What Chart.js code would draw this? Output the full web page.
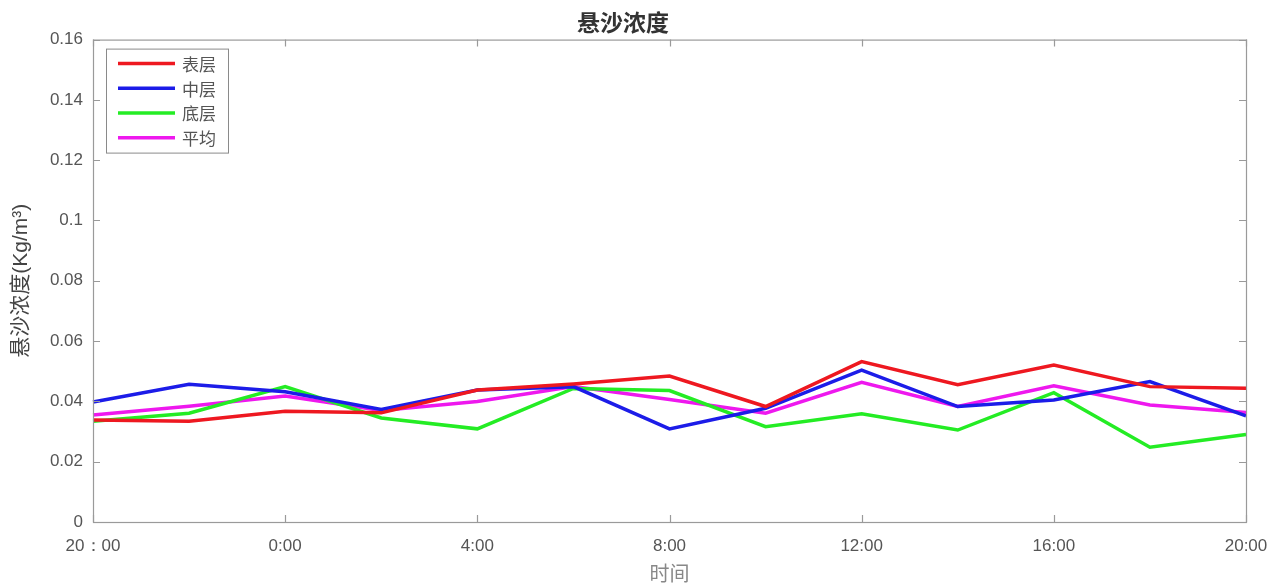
<!DOCTYPE html>
<html><head><meta charset="utf-8">
<script src="https://cdn.jsdelivr.net/npm/chart.js@4.4.0/dist/chart.umd.min.js"></script>
<style>html,body{margin:0;padding:0;background:#fff}#wrap{width:1285px;height:587px}</style>
</head><body><div id="wrap"><canvas id="c" width="1285" height="587"></canvas></div>
<script>
const categories = ["20：00","22:00","0:00","2:00","4:00","6:00","8:00","10:00","12:00","14:00","16:00","18:00","20:00"];
const seriesNames = ["表层","中层","底层","平均"];
const surface = [0.0338,0.0334,0.0367,0.0362,0.0438,0.0458,0.0484,0.0383,0.0532,0.0455,0.0521,0.0449,0.0444];
const middle  = [0.0398,0.0457,0.0432,0.0373,0.0438,0.0449,0.0309,0.0377,0.0504,0.0383,0.0405,0.0466,0.0352];
const bottom  = [0.0334,0.0361,0.0449,0.0345,0.0309,0.0443,0.0436,0.0316,0.0359,0.0305,0.0429,0.0248,0.0290];
const average = [0.0355,0.0384,0.0418,0.0370,0.0400,0.0449,0.0406,0.0361,0.0463,0.0383,0.0452,0.0388,0.0363];
const yTicks = [0,0.02,0.04,0.06,0.08,0.1,0.12,0.14,0.16];
const colors = ["rgb(238,24,32)","rgb(28,28,232)","rgb(36,236,36)","rgb(238,24,238)"];

const frame = {
  id:'frame',
  afterDraw(chart){
    const {ctx, chartArea:a, scales} = chart;
    ctx.save();
    ctx.strokeStyle = '#9a9a9a'; ctx.lineWidth = 1.2;
    ctx.strokeRect(a.left+0.5, a.top+0.5, a.right-a.left, a.bottom-a.top);
    const L = 7;
    scales.y.ticks.forEach((t,i)=>{
      const y = Math.round(scales.y.getPixelForTick(i))+0.5;
      ctx.beginPath(); ctx.moveTo(a.left, y); ctx.lineTo(a.left+L, y);
      ctx.moveTo(a.right, y); ctx.lineTo(a.right-L, y); ctx.stroke();
    });
    scales.x.ticks.forEach((t,i)=>{
      if (t.value % 2 !== 0) return;
      const x = Math.round(scales.x.getPixelForValue(t.value))+0.5;
      ctx.beginPath(); ctx.moveTo(x, a.bottom); ctx.lineTo(x, a.bottom-L);
      ctx.moveTo(x, a.top); ctx.lineTo(x, a.top+L); ctx.stroke();
    });
    // legend
    const bx = a.left+13, by = a.top+9, bw = 122, bh = 104;
    ctx.fillStyle = '#fff'; ctx.fillRect(bx, by, bw, bh);
    ctx.strokeStyle = '#8a8a8a'; ctx.lineWidth = 1;
    ctx.strokeRect(bx+0.5, by+0.5, bw, bh);
    ctx.font = '17px "Noto Sans CJK SC"';
    ctx.textBaseline = 'middle';
    chart.data.datasets.forEach((ds,i)=>{
      const y = by + 15 + i*24.7;
      ctx.strokeStyle = ds.borderColor; ctx.lineWidth = 3.5;
      ctx.beginPath(); ctx.moveTo(bx+12, y); ctx.lineTo(bx+69, y); ctx.stroke();
      ctx.fillStyle = '#555';
      ctx.fillText(ds.label, bx+76, y+1);
    });
    ctx.restore();
  }
};

new Chart(document.getElementById('c'), {
  type:'line',
  data:{
    labels: categories,
    datasets: [surface, middle, bottom, average].map((d,i)=>({
      label: seriesNames[i], data: d, borderColor: colors[i], backgroundColor: colors[i],
      borderWidth: 3.5, pointRadius: 0, tension: 0, fill: false
    }))
  },
  options:{
    responsive:false, animation:false, devicePixelRatio:1,
    layout:{padding:{left:0,right:39,top:0,bottom:2}},
    plugins:{
      legend:{display:false}, tooltip:{enabled:false},
      title:{display:true, text:'悬沙浓度', color:'#333',
        font:{family:'"Noto Sans CJK SC"', size:23, weight:'bold'}, padding:{top:8,bottom:4}}
    },
    scales:{
      x:{
        type:'category', offset:false,
        grid:{display:false, drawTicks:false}, border:{display:false},
        ticks:{color:'#555', font:{family:'"Liberation Sans"', size:17}, padding:14, maxRotation:0, autoSkip:false,
          callback:(v,i)=> i%2===0 ? categories[i] : ''},
        title:{display:true, text:'时间', color:'#888', font:{family:'"Noto Sans CJK SC"', size:20}, padding:{top:0,bottom:0}},
        afterFit(s){ s.height = 63; }
      },
      y:{
        min:0, max:0.16,
        afterBuildTicks(s){ s.ticks = yTicks.map(v=>({value:v})); },
        grid:{display:false, drawTicks:false}, border:{display:false},
        ticks:{color:'#555', font:{family:'"Liberation Sans"', size:17}, padding:10,
          callback:(v)=> String(+v.toFixed(2))},
        title:{display:true, text:'悬沙浓度(Kg/m³)', color:'#444', font:{family:'"Liberation Sans","Noto Sans CJK SC"', size:21}, padding:{top:9,bottom:0}},
        afterFit(s){ s.width = 93; }
      }
    }
  },
  plugins:[frame]
});
</script></body></html>
